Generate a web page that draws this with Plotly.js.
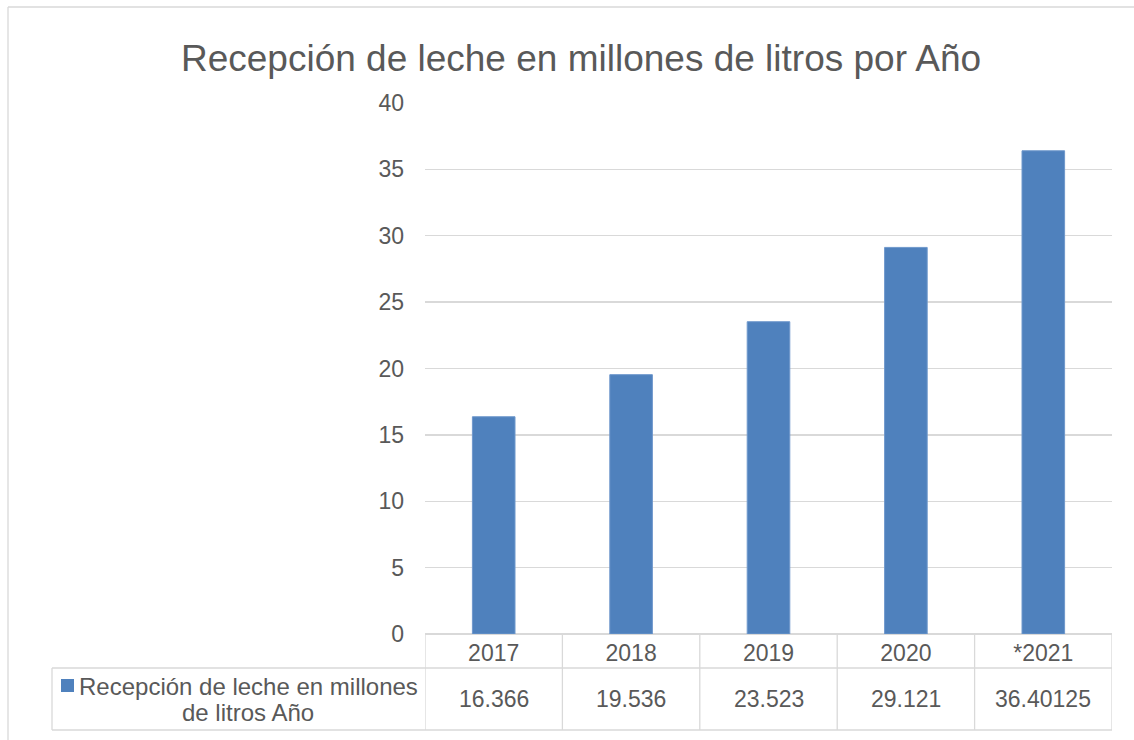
<!DOCTYPE html>
<html>
<head>
<meta charset="utf-8">
<script src="https://cdn.plot.ly/plotly-3.0.1.min.js"></script>
<style>html,body{margin:0;padding:0;background:#fff;}#chart{width:1134px;height:740px;}</style>
</head>
<body>
<div id="chart"></div>
<script>
const years = ['2017', '2018', '2019', '2020', '*2021'];
const values = [16.366, 19.536, 23.523, 29.121, 36.40125];
const valueLabels = ['16.366', '19.536', '23.523', '29.121', '36.40125'];
const seriesName = 'Recepción de leche en millones de litros Año';
const seriesLabelLines = ['Recepción de leche en millones', 'de litros Año'];
const chartTitle = 'Recepción de leche en millones de litros por Año';
const yTickVals = [0, 5, 10, 15, 20, 25, 30, 35, 40];

const W = 1134, H = 740;
const L = 425, R = 1112, T = 103, B = 634;
const px = x => (x - L) / (R - L);
const py = y => (B - y) / (B - T);
const FONT = 'Arial, "Liberation Sans", sans-serif';
const TXT = '#595959';
const GRID = '#d9d9d9';
const BAR = '#4f81bd';
const FS = 23;

const shapes = [];
const line = (x0, y0, x1, y1) => shapes.push({type: 'line', xref: 'paper', yref: 'paper',
  x0: px(x0), y0: py(y0), x1: px(x1), y1: py(y1), line: {color: GRID, width: 1.3}});
// outer chart frame (partially visible)
line(8, 7, 1140, 7);
line(8, 7, 8, 745);
// data table
line(52, 668, R, 668);
line(52, 730, R, 730);
line(52, 668, 52, 730);
for (let i = 0; i <= years.length; i++) {
  shapes.push({type: 'line', xref: 'x', yref: 'paper', x0: i - 0.5, x1: i - 0.5,
    y0: py(634), y1: py(730), line: {color: GRID, width: 1.3}});
}
// legend key
shapes.push({type: 'rect', xref: 'paper', yref: 'paper', x0: px(61), x1: px(74), y0: py(679), y1: py(692),
  fillcolor: BAR, line: {width: 0}});

const annotations = years.map((y, i) => ({
  x: i, xref: 'x', y: py(699), yref: 'paper', text: valueLabels[i], showarrow: false,
  xanchor: 'center', yanchor: 'middle', font: {family: FONT, size: FS, color: TXT}
}));
const labelY = [686, 712];
seriesLabelLines.forEach((t, k) => annotations.push({
  x: px(248), xref: 'paper', y: py(labelY[k]), yref: 'paper', text: t,
  showarrow: false, xanchor: 'center', yanchor: 'middle', align: 'center',
  font: {family: FONT, size: 24, color: TXT}
}));

const data = [{
  type: 'bar', name: seriesName, x: years, y: values, width: 0.31,
  marker: {color: BAR, line: {color: '#6f98cc', width: 1}}, hoverinfo: 'x+y'
}];

const layout = {
  width: W, height: H,
  margin: {l: L, r: W - R, t: T, b: H - B, pad: 0},
  paper_bgcolor: '#fff', plot_bgcolor: '#fff',
  showlegend: false,
  title: {text: chartTitle, font: {family: FONT, size: 37, color: TXT},
    xref: 'container', x: 581 / W, xanchor: 'center', yref: 'container', y: 1 - 58 / H, yanchor: 'middle'},
  xaxis: {type: 'category', range: [-0.5, years.length - 0.5], showgrid: false, zeroline: false,
    showline: false, ticks: '', tickfont: {family: FONT, size: FS, color: TXT}, ticklabelstandoff: 3,
    fixedrange: true},
  yaxis: {range: [0, 40], tickvals: yTickVals, showgrid: true, gridcolor: GRID, gridwidth: 1.3,
    zeroline: true, zerolinecolor: GRID, zerolinewidth: 1.3, showline: false, ticks: '',
    tickfont: {family: FONT, size: FS, color: TXT}, ticklabelstandoff: 20, fixedrange: true},
  shapes: shapes,
  annotations: annotations
};

Plotly.newPlot('chart', data, layout, {displayModeBar: false, staticPlot: true});
</script>
</body>
</html>
